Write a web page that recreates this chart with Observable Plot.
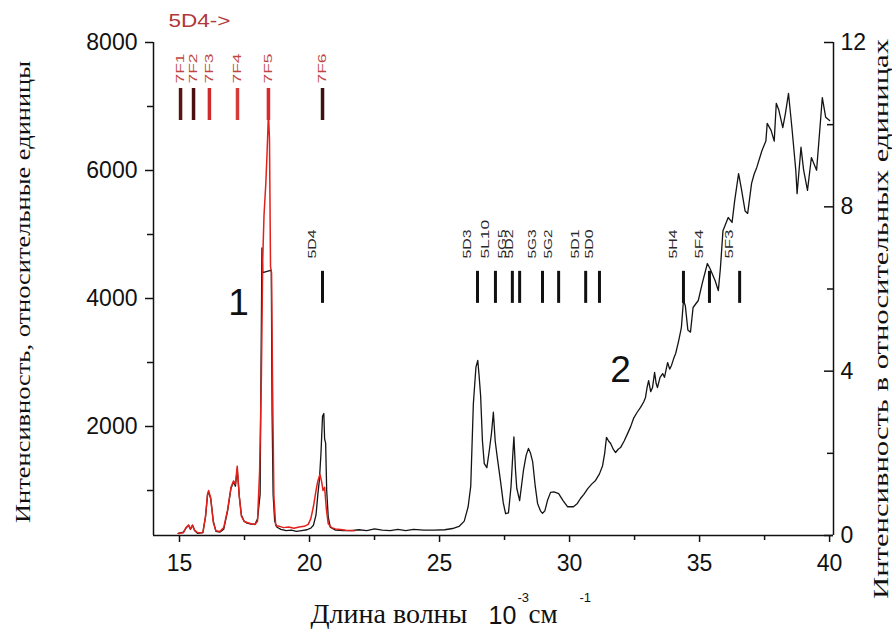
<!DOCTYPE html>
<html><head><meta charset="utf-8">
<script src="https://cdn.jsdelivr.net/npm/d3@7"></script>
<script src="https://cdn.jsdelivr.net/npm/@observablehq/plot@0.6"></script>
<style>
body{margin:0;background:#fff;}
#wrap{position:relative;width:892px;height:632px;background:#fff;}
#wrap svg{position:absolute;left:0;top:0;}
</style></head><body><div id="wrap"></div>
<script>
// Curve 1 (red, left axis): [wavenumber 10^3 cm^-1, intensity]
const curve1 = [[14.95,330],[15.15,340],[15.25,420],[15.35,460],[15.42,400],[15.5,460],[15.58,380],[15.7,340],[15.9,345],[16.0,600],[16.08,950],[16.12,1000],[16.2,880],[16.3,500],[16.4,370],[16.55,360],[16.7,420],[16.85,700],[16.98,1050],[17.08,1150],[17.15,1100],[17.22,1380],[17.3,900],[17.38,600],[17.48,520],[17.6,500],[17.75,480],[17.9,470],[18.0,520],[18.08,1300],[18.15,2800],[18.2,4600],[18.25,5300],[18.32,5800],[18.37,6300],[18.42,6900],[18.46,6500],[18.5,4500],[18.54,4400],[18.58,2600],[18.63,900],[18.7,450],[18.85,440],[19.0,420],[19.2,430],[19.4,410],[19.6,430],[19.8,440],[19.95,470],[20.05,560],[20.15,750],[20.25,1000],[20.32,1150],[20.4,1250],[20.46,1150],[20.52,1000],[20.58,1050],[20.65,700],[20.72,480],[20.85,420],[21.0,400],[21.2,390],[21.4,380],[21.6,375],[21.72,370]];
// Curve 2 (black, right axis)
const curve2 = [[14.95,0.05],[15.15,0.08],[15.25,0.18],[15.35,0.25],[15.42,0.15],[15.5,0.25],[15.58,0.12],[15.7,0.05],[15.9,0.07],[16.0,0.45],[16.08,1.0],[16.12,1.05],[16.2,0.9],[16.3,0.35],[16.4,0.1],[16.55,0.08],[16.7,0.15],[16.85,0.6],[16.98,1.15],[17.08,1.3],[17.15,1.2],[17.22,1.62],[17.3,0.95],[17.38,0.5],[17.48,0.35],[17.6,0.3],[17.75,0.28],[17.9,0.27],[18.0,0.4],[18.1,1.0],[18.14,4.5],[18.17,7.0],[18.2,6.4],[18.47,6.45],[18.53,6.45],[18.56,3.0],[18.6,1.0],[18.66,0.35],[18.75,0.2],[18.9,0.15],[19.1,0.12],[19.3,0.13],[19.5,0.1],[19.7,0.12],[19.9,0.14],[20.05,0.18],[20.15,0.25],[20.25,0.5],[20.32,1.0],[20.38,1.35],[20.44,2.0],[20.5,2.9],[20.55,2.97],[20.58,2.35],[20.62,2.25],[20.66,1.1],[20.72,0.45],[20.8,0.2],[21.0,0.13],[21.3,0.12],[21.6,0.12],[21.9,0.14],[22.2,0.12],[22.5,0.16],[22.8,0.13],[23.1,0.12],[23.4,0.15],[23.7,0.12],[24.0,0.15],[24.4,0.13],[24.8,0.13],[25.2,0.14],[25.5,0.17],[25.75,0.22],[25.95,0.35],[26.1,0.7],[26.2,1.2],[26.3,3.2],[26.4,4.1],[26.47,4.26],[26.52,3.9],[26.58,3.4],[26.65,2.3],[26.72,1.75],[26.82,1.65],[26.92,2.1],[27.0,2.5],[27.07,3.0],[27.14,2.3],[27.22,1.9],[27.35,1.3],[27.45,0.8],[27.54,0.53],[27.65,0.55],[27.75,1.2],[27.82,2.0],[27.86,2.4],[27.92,1.6],[27.97,1.15],[28.08,0.85],[28.23,1.6],[28.33,1.95],[28.42,2.12],[28.5,2.0],[28.58,1.8],[28.68,1.2],[28.77,0.78],[28.88,0.6],[28.96,0.54],[29.05,0.6],[29.15,0.85],[29.27,1.05],[29.4,1.06],[29.58,1.02],[29.75,0.85],[29.92,0.7],[30.15,0.7],[30.3,0.78],[30.42,0.9],[30.55,1.0],[30.7,1.14],[30.85,1.25],[31.0,1.34],[31.15,1.5],[31.27,1.7],[31.35,2.0],[31.42,2.39],[31.5,2.3],[31.58,2.24],[31.68,2.1],[31.77,2.02],[31.87,2.1],[31.96,2.14],[32.1,2.3],[32.23,2.48],[32.35,2.65],[32.46,2.85],[32.6,3.0],[32.73,3.12],[32.85,3.25],[32.92,3.36],[32.98,3.6],[33.04,3.77],[33.12,3.5],[33.19,3.6],[33.27,3.97],[33.33,3.7],[33.38,3.6],[33.48,3.85],[33.58,3.94],[33.65,3.85],[33.77,4.21],[33.85,4.05],[33.92,4.14],[34.0,4.3],[34.08,4.43],[34.2,4.75],[34.3,5.06],[34.38,5.72],[34.45,5.6],[34.55,5.0],[34.65,4.95],[34.75,5.55],[34.95,5.72],[35.1,6.13],[35.3,6.62],[35.4,6.5],[35.6,6.2],[35.72,5.96],[35.8,6.5],[35.9,7.42],[36.1,7.74],[36.25,7.62],[36.35,8.15],[36.5,8.81],[36.6,8.47],[36.75,7.9],[36.85,7.84],[37.0,8.57],[37.1,8.8],[37.2,8.96],[37.4,9.37],[37.55,9.6],[37.6,10.03],[37.75,9.86],[37.87,9.6],[37.95,10.52],[38.05,10.35],[38.2,9.93],[38.3,10.27],[38.42,10.76],[38.55,9.93],[38.7,8.89],[38.75,8.32],[38.9,9.45],[39.0,8.9],[39.15,8.4],[39.3,9.2],[39.5,8.89],[39.6,9.69],[39.72,10.66],[39.85,10.18],[40.0,10.1]];

// Transitions 5D4 -> 7FJ (red group)
const redLevels = ["7F1","7F2","7F3","7F4","7F5","7F6"];
const redLevelX = [15.04,15.54,16.15,17.23,18.42,20.5];
// Excited levels (black group)
const blackLevels = ["5D4","5D3","5L10","5G5","5D2","5G3","5G2","5D1","5D0","5H4","5F4","5F3"];
const blackLevelX = [20.5,26.46,27.15,27.8,28.08,28.96,29.58,30.62,31.15,34.38,35.38,36.54];

const xTicks = [15,20,25,30,35,40];
const xMinor = [17.5,22.5,27.5,32.5,37.5];
const leftTicks = [2000,4000,6000,8000];
const leftMinor = [1000,3000,5000,7000];
const rightTicks = [0,4,8,12];
const rightMinor = [2,6,10];

const titleLeft = "Интенсивность, относительные единицы";
const titleRight = "Интенсивность в относительных единицах";
const titleX = "Длина волны";

// styles
const redTickColors = ["#5a1414","#4a1010","#cf2a2a","#d63a36","#e0262a","#3e1010"];
const sans = "'Liberation Sans', Arial, sans-serif";
const serif = "'Liberation Serif', 'Times New Roman', serif";

const c1 = curve1.map(([x,y]) => ({x, y}));
const c2 = curve2.map(([x,y]) => ({x, y}));
const redT = redLevels.map((label,i) => ({label, x: redLevelX[i]}));
const blackT = blackLevels.map((label,i) => ({label, x: blackLevelX[i]}));

const xDomain = [14, 40.15];
const common = {
  width: 892, height: 632,
  marginTop: 42, marginRight: 59, marginBottom: 97, marginLeft: 153,
  style: {background: "transparent", fontFamily: sans, color: "#111"}
};
const fmt = d3.format("d");

const chartB = Plot.plot({
  ...common,
  x: {domain: xDomain, axis: null},
  y: {domain: [0, 12]},
  marks: [
    Plot.line(c2, {x: "x", y: "y", stroke: "#141414", strokeWidth: 1.3}),
    Plot.ruleX(blackT, {x: "x", y1: 5.65, y2: 6.43, stroke: "#111", strokeWidth: 3}),
    Plot.text(blackT, {x: "x", y: 6.74, text: "label", rotate: -90, textAnchor: "start", lineAnchor: "middle", dx: -10, fontSize: 10, fill: "#2a2a2a"}),
    Plot.text(["2"], {x: 31.96, y: 4.02, text: d => d, fontSize: 37, fill: "#111"}),
    Plot.axisY({anchor: "right", ticks: rightTicks, tickSize: 0, tickPadding: 7, fontSize: 23, tickFormat: fmt, label: null}),
    Plot.tickY(rightTicks, {y: d => d, insetLeft: 671, strokeWidth: 1.5, stroke: "#111"}),
    Plot.tickY(rightMinor, {y: d => d, insetLeft: 674, strokeWidth: 1.5, stroke: "#111"}),
    Plot.text([titleRight], {frameAnchor: "right", dx: 48, dy: 30, rotate: -90, text: d => d, fontFamily: serif, fontSize: 21, textAnchor: "middle", lineAnchor: "middle", fill: "#111"})
  ]
});

const chartA = Plot.plot({
  ...common,
  x: {domain: xDomain},
  y: {domain: [297, 8000]},
  color: {type: "identity"},
  marks: [
    Plot.line(c1, {x: "x", y: "y", stroke: "#e3211c", strokeWidth: 1.5}),
    Plot.ruleX(redT, {x: "x", y1: 6781, y2: 7281, stroke: (d, i) => redTickColors[i], strokeWidth: 3.5}),
    Plot.text(redT, {x: "x", y: 7359, text: "label", rotate: -90, textAnchor: "start", lineAnchor: "middle", fontSize: 11, fill: "#c0453f"}),
    Plot.text(["5D4->"], {frameAnchor: "top-left", dx: 15, dy: -21, text: d => d, textAnchor: "start", lineAnchor: "middle", fontSize: 18, fill: "#b03838"}),
    Plot.text(["1"], {x: 17.27, y: 3922, text: d => d, fontSize: 37, fill: "#111"}),
    Plot.axisY({ticks: leftTicks, tickSize: 8, tickPadding: 8, fontSize: 23, strokeWidth: 1.5, tickFormat: fmt, label: null}),
    Plot.axisY({ticks: leftMinor, tickSize: 6, tickFormat: () => "", strokeWidth: 1.5, label: null}),
    Plot.axisX({ticks: xTicks, tickSize: 7, tickPadding: 12, fontSize: 23, strokeWidth: 1.5, tickFormat: fmt, label: null}),
    Plot.axisX({ticks: xMinor, tickSize: 5, tickFormat: () => "", strokeWidth: 1.5, label: null}),
    Plot.ruleX(xDomain, {stroke: "#111", strokeWidth: 1.5}),
    Plot.ruleY([297], {stroke: "#111", strokeWidth: 1.5}),
    Plot.text([titleLeft], {frameAnchor: "left", dx: -130, dy: 3, rotate: -90, text: d => d, fontFamily: serif, fontSize: 21, textAnchor: "middle", lineAnchor: "middle", fill: "#111"}),
    Plot.text([titleX], {frameAnchor: "bottom-left", dx: 157, dy: 79, text: d => d, fontFamily: serif, fontSize: 28, textAnchor: "start", lineAnchor: "middle", fill: "#111"}),
    Plot.text(["10"], {frameAnchor: "bottom-left", dx: 335, dy: 80, text: d => d, fontSize: 25, textAnchor: "start", lineAnchor: "middle", fill: "#111"}),
    Plot.text(["-3"], {frameAnchor: "bottom-left", dx: 364, dy: 62.5, text: d => d, fontSize: 13, textAnchor: "start", lineAnchor: "middle", fill: "#111"}),
    Plot.text(["см"], {frameAnchor: "bottom-left", dx: 375, dy: 79, text: d => d, fontFamily: serif, fontSize: 27, textAnchor: "start", lineAnchor: "middle", fill: "#111"}),
    Plot.text(["-1"], {frameAnchor: "bottom-left", dx: 426, dy: 62.5, text: d => d, fontSize: 13, textAnchor: "start", lineAnchor: "middle", fill: "#111"})
  ]
});

// stretch condensed-looking labels to their measured lengths
const lengths = new Map();
redLevels.forEach(l => lengths.set(l, 30));
blackLevels.forEach(l => lengths.set(l, 9.7 * l.length));
lengths.set("5D4->", 62);
lengths.set(titleLeft, 462);
lengths.set(titleRight, 560);
for (const svg of [chartA, chartB]) {
  d3.select(svg).selectAll("text").each(function() {
    const t = this.textContent;
    if (lengths.has(t) && this.childElementCount === 0) {
      this.setAttribute("textLength", lengths.get(t));
      this.setAttribute("lengthAdjust", "spacingAndGlyphs");
    }
  });
}
const wrap = document.getElementById("wrap");
wrap.appendChild(chartB);
wrap.appendChild(chartA);
</script>
</body></html>
